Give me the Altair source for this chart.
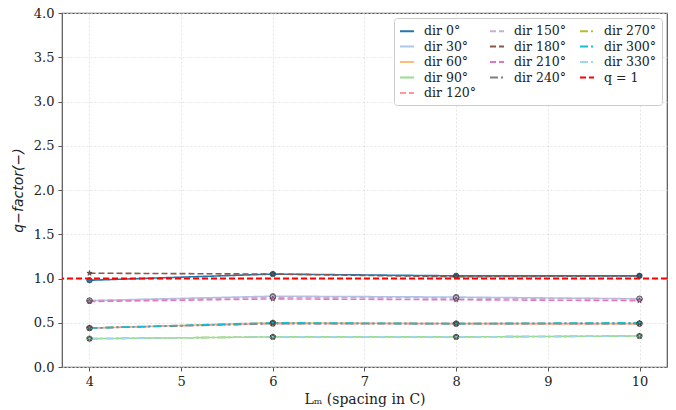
import altair as alt
import pandas as pd

x_vals = [4, 6, 8, 10]
series_names = ["dir 0°", "dir 30°", "dir 60°", "dir 90°", "dir 120°", "dir 150°",
                "dir 180°", "dir 210°", "dir 240°", "dir 270°", "dir 300°", "dir 330°"]
series_values = [
    [0.98, 1.05, 1.03, 1.03],
    [0.75, 0.80, 0.79, 0.77],
    [0.44, 0.50, 0.49, 0.49],
    [0.32, 0.34, 0.34, 0.35],
    [0.44, 0.49, 0.49, 0.49],
    [0.75, 0.79, 0.78, 0.77],
    [1.06, 1.05, 1.02, 1.03],
    [0.74, 0.77, 0.76, 0.75],
    [0.44, 0.49, 0.49, 0.49],
    [0.32, 0.34, 0.34, 0.35],
    [0.44, 0.50, 0.49, 0.50],
    [0.32, 0.34, 0.34, 0.35],
]
series_colors = ["#1f77b4", "#aec7e8", "#ffbb78", "#98df8a", "#ff9896", "#c5b0d5",
                 "#8c564b", "#e377c2", "#7f7f7f", "#bcbd22", "#17becf", "#9edae5"]
ref_name = "q = 1"
ref_value = 1.0
ref_color = "#ff0000"

solid = [1, 0]
dashed = [6, 3]
dashdot = [8, 3, 2, 3]
dash_styles = [solid] * 4 + [dashed] * 4 + [dashdot] * 4
star = ("M0,-1L0.2245,-0.309L0.951,-0.309L0.363,0.118L0.588,0.809L0,0.382"
        "L-0.588,0.809L-0.363,0.118L-0.951,-0.309L-0.2245,-0.309Z")
shapes = ["circle"] * 6 + [star] * 6

rows = []
for name, vals in zip(series_names, series_values):
    for xv, yv in zip(x_vals, vals):
        rows.append({"x": xv, "y": yv, "series": name, "mk": name})
df = pd.DataFrame(rows)

all_names = series_names + [ref_name]
all_colors = series_colors + [ref_color]
all_dash = dash_styles + [dashed]

# Domain order chosen so that Vega's 3-column legend reproduces
# matplotlib's column-major layout (5 / 4 / 4 entries per column).
legend_order = [0, 1, 2, 3, 12, 5, 6, 7, 8, 4, 9, 10, 11]
dom = [all_names[i] for i in legend_order]
col_rng = [all_colors[i] for i in legend_order]
dash_rng = [all_dash[i] for i in legend_order]

font = "DejaVu Serif"
color_scale = alt.Scale(domain=dom, range=col_rng)
dash_scale = alt.Scale(domain=dom, range=dash_rng)
shape_scale = alt.Scale(domain=series_names, range=shapes)

legend = alt.Legend(
    title=None, orient="top-right", columns=3, offset=5,
    fillColor="white", strokeColor="#cccccc", cornerRadius=3, padding=5,
    labelFont=font, labelFontSize=12.5, labelColor="#222222",
    symbolType="stroke", symbolSize=196, symbolStrokeWidth=2,
    columnPadding=9, rowPadding=0.5, labelLimit=200, labelOffset=9,
)

xenc = alt.X("x:Q", scale=alt.Scale(domain=[3.7, 10.3], nice=False, zero=False),
             axis=alt.Axis(values=[4, 5, 6, 7, 8, 9, 10], format="d",
                           title="Lₘ (spacing in C)"))
yenc = alt.Y("y:Q", scale=alt.Scale(domain=[0, 4], nice=False),
             axis=alt.Axis(values=[0, 0.5, 1, 1.5, 2, 2.5, 3, 3.5, 4], format=".1f",
                           title="q−factor(−)", titleFontStyle="italic",
                           titleFont="DejaVu Sans"))

lines = alt.Chart(df).mark_line(strokeWidth=1.6).encode(
    x=xenc, y=yenc,
    color=alt.Color("series:N", scale=color_scale, legend=legend),
    strokeDash=alt.StrokeDash("series:N", scale=dash_scale, legend=legend),
)

points = alt.Chart(df).mark_point(filled=True, size=30, stroke="#333333",
                                  strokeWidth=0.6, opacity=1).encode(
    x="x:Q", y="y:Q",
    fill=alt.Fill("series:N", scale=color_scale, legend=None),
    shape=alt.Shape("mk:N", scale=shape_scale, legend=None),
)

ref_df = pd.DataFrame({"y": [ref_value], "series": [ref_name]})
ref = alt.Chart(ref_df).mark_rule(strokeWidth=2).encode(
    y="y:Q",
    color=alt.Color("series:N", scale=color_scale, legend=legend),
    strokeDash=alt.StrokeDash("series:N", scale=dash_scale, legend=legend),
)

chart = alt.layer(lines, points, ref).properties(
    width=605, height=354,
    autosize=alt.AutoSizeParams(type="none"),
    padding={"left": 62, "top": 13, "right": 9, "bottom": 43},
).configure_view(
    stroke="#555555", strokeWidth=1.2
).configure_axis(
    labelFont=font, labelFontSize=13, labelColor="#222222",
    titleFont=font, titleFontSize=14, titleFontWeight="normal", titleColor="#222222",
    grid=True, gridColor="#dddddd", gridDash=[2, 2], gridWidth=0.8,
    domain=False, tickColor="#555555", tickSize=4, labelPadding=4,
).configure_axisY(titlePadding=8).configure_axisX(titlePadding=4)

chart.save("out.html", embed_options={"renderer": "svg", "actions": False})
